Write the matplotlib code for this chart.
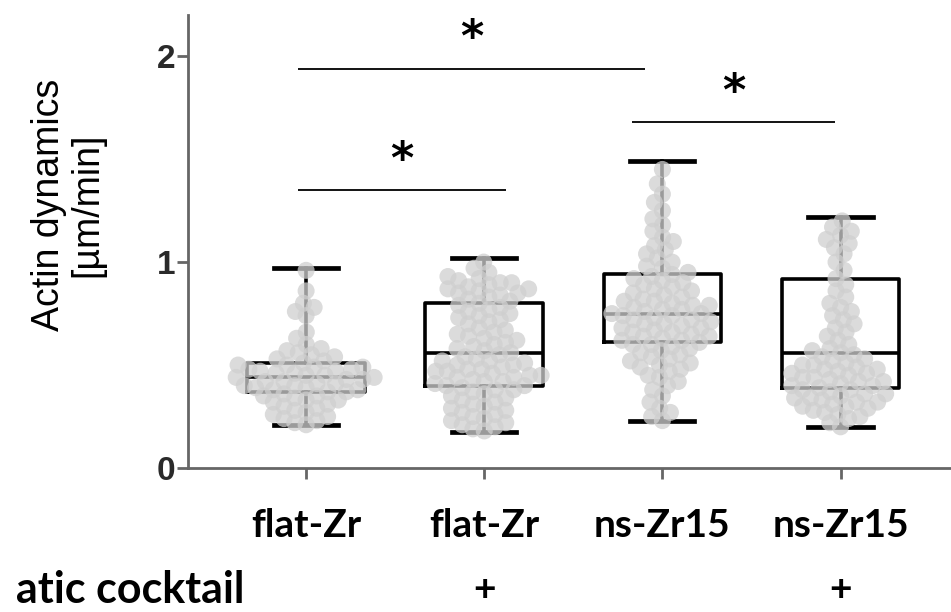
import numpy as np
import matplotlib
matplotlib.use("Agg")
import matplotlib.pyplot as plt

# ---------------------------------------------------------------------------
# Data
# ---------------------------------------------------------------------------

CATEGORIES = ["flat-Zr", "flat-Zr", "ns-Zr15", "ns-Zr15"]
COCKTAIL   = ["", "+", "", "+"]

# box statistics: whisker low, Q1, median, Q3, whisker high
WHIS_LO = [0.21, 0.175, 0.23, 0.20]
Q1      = [0.37, 0.40, 0.61, 0.39]
MEDIAN  = [0.44, 0.56, 0.75, 0.56]
Q3      = [0.51, 0.80, 0.94, 0.92]
WHIS_HI = [0.97, 1.02, 1.49, 1.22]

POINTS_FLAT = [
    0.21, 0.22, 0.23, 0.24, 0.25, 0.26, 0.27, 0.28, 0.29, 0.30, 0.31, 0.32,
    0.33, 0.33, 0.34, 0.35, 0.35, 0.36, 0.37, 0.37, 0.38, 0.38, 0.39, 0.39,
    0.40, 0.40, 0.41, 0.41, 0.42, 0.42, 0.43, 0.43, 0.44, 0.44, 0.45, 0.45,
    0.46, 0.46, 0.47, 0.47, 0.48, 0.48, 0.49, 0.49, 0.50, 0.50, 0.51, 0.52,
    0.53, 0.54, 0.55, 0.56, 0.57, 0.58, 0.60, 0.63, 0.66, 0.74, 0.76, 0.78,
    0.80, 0.86, 0.96,
]
POINTS_FLAT_COCKTAIL = [
    0.18, 0.19, 0.20, 0.21, 0.22, 0.23, 0.24, 0.25, 0.26, 0.27, 0.28, 0.29,
    0.30, 0.31, 0.32, 0.33, 0.34, 0.35, 0.36, 0.37, 0.38, 0.38, 0.39, 0.40,
    0.40, 0.41, 0.42, 0.42, 0.43, 0.44, 0.44, 0.45, 0.45, 0.46, 0.47, 0.47,
    0.48, 0.48, 0.49, 0.50, 0.50, 0.51, 0.52, 0.52, 0.53, 0.54, 0.55, 0.56,
    0.57, 0.58, 0.59, 0.60, 0.61, 0.62, 0.63, 0.64, 0.65, 0.66, 0.67, 0.68,
    0.70, 0.71, 0.72, 0.73, 0.74, 0.75, 0.76, 0.77, 0.78, 0.79, 0.80, 0.81,
    0.82, 0.83, 0.84, 0.85, 0.85, 0.86, 0.87, 0.87, 0.88, 0.89, 0.90, 0.90,
    0.91, 0.92, 0.93, 0.95, 0.97, 1.00,
]
POINTS_NS = [
    0.23, 0.25, 0.27, 0.29, 0.32, 0.35, 0.38, 0.40, 0.42, 0.44, 0.45, 0.47,
    0.48, 0.49, 0.50, 0.51, 0.52, 0.53, 0.54, 0.55, 0.56, 0.57, 0.58, 0.59,
    0.60, 0.60, 0.61, 0.62, 0.62, 0.63, 0.64, 0.64, 0.65, 0.66, 0.66, 0.67,
    0.68, 0.68, 0.69, 0.70, 0.70, 0.71, 0.72, 0.72, 0.73, 0.74, 0.74, 0.75,
    0.75, 0.76, 0.77, 0.77, 0.78, 0.79, 0.79, 0.80, 0.81, 0.81, 0.82, 0.83,
    0.84, 0.85, 0.86, 0.87, 0.88, 0.89, 0.90, 0.91, 0.92, 0.93, 0.94, 0.95,
    0.97, 0.98, 1.00, 1.02, 1.04, 1.06, 1.08, 1.10, 1.12, 1.15, 1.18, 1.21,
    1.25, 1.29, 1.33, 1.38, 1.45,
]
POINTS_NS_COCKTAIL = [
    0.20, 0.22, 0.24, 0.25, 0.26, 0.27, 0.28, 0.29, 0.30, 0.30, 0.31, 0.32,
    0.32, 0.33, 0.34, 0.34, 0.35, 0.36, 0.36, 0.37, 0.38, 0.38, 0.39, 0.40,
    0.40, 0.41, 0.42, 0.42, 0.43, 0.44, 0.44, 0.45, 0.46, 0.46, 0.47, 0.48,
    0.48, 0.49, 0.50, 0.50, 0.51, 0.52, 0.53, 0.54, 0.55, 0.56, 0.57, 0.58,
    0.60, 0.62, 0.64, 0.66, 0.68, 0.70, 0.72, 0.74, 0.76, 0.78, 0.80, 0.83,
    0.86, 0.89, 0.92, 0.96, 1.00, 1.04, 1.07, 1.09, 1.11, 1.13, 1.15, 1.17,
    1.20,
]
GROUP_POINTS = [POINTS_FLAT, POINTS_FLAT_COCKTAIL, POINTS_NS, POINTS_NS_COCKTAIL]

# significance brackets: (x start, x end, height)
SIG_X0 = [0.955, 2.83, 0.955]
SIG_X1 = [2.905, 3.97, 2.12]
SIG_Y  = [1.94, 1.68, 1.35]
SIG_LABELS = ["*", "*", "*"]

# ---------------------------------------------------------------------------
# Beeswarm layout
# ---------------------------------------------------------------------------

def swarm_offsets(values, sx, sy, d):
    """Horizontal offsets (data units) so markers of diameter d px don't overlap."""
    order = np.argsort(values)
    placed = []   # (x_px, y_px)
    offsets = np.zeros(len(values))
    for idx in order:
        y = values[idx] * sy
        blocks = []
        for px, py in placed:
            dy = abs(py - y)
            if dy < d:
                w = np.sqrt(d * d - dy * dy)
                blocks.append((px - w, px + w))
        cands = [0.0] + [b for pair in blocks for b in pair]
        cands.sort(key=abs)
        for c in cands:
            if all(not (lo + 1e-6 < c < hi - 1e-6) for lo, hi in blocks):
                x = c
                break
        placed.append((x, y))
        offsets[idx] = x / sx
    return offsets

# ---------------------------------------------------------------------------
# Figure
# ---------------------------------------------------------------------------

fig = plt.figure(figsize=(9.51, 6.12), dpi=100)
ax = fig.add_axes([188 / 951, 144 / 612, 1 - 188 / 951, 453 / 612])
ax.set_xlim(0.337, 4.62)
ax.set_ylim(0, 2.2)

positions = np.arange(1, len(CATEGORIES) + 1)
stats = [
    dict(whislo=WHIS_LO[i], q1=Q1[i], med=MEDIAN[i], q3=Q3[i], whishi=WHIS_HI[i])
    for i in range(len(CATEGORIES))
]
line_kw = dict(color="black", linewidth=2.6)
ax.bxp(
    stats, positions=positions, widths=0.66, showfliers=False,
    boxprops=line_kw, medianprops=line_kw, whiskerprops=line_kw,
    capprops=dict(color="black", linewidth=3.4), capwidths=0.36,
    manage_ticks=False, zorder=2,
)

sx, sy = 178.0, 206.0   # px per data unit
for pos, pts in zip(positions, GROUP_POINTS):
    vals = np.asarray(pts)
    off = swarm_offsets(vals, sx, sy, 11.5)
    ax.scatter(pos + off, vals, s=150, color="#cfcfcf", alpha=0.75,
               edgecolors="none", zorder=3)

# significance bars
for x0, x1, y, lab in zip(SIG_X0, SIG_X1, SIG_Y, SIG_LABELS):
    ax.plot([x0, x1], [y, y], color="black", linewidth=1.3, zorder=4,
            solid_capstyle="butt")
    ax.text((x0 + x1) / 2, y + 0.04, lab, ha="center", va="bottom",
            fontsize=32, fontweight="bold", color="black", zorder=4)

# axes styling
for side in ("top", "right"):
    ax.spines[side].set_visible(False)
for side in ("left", "bottom"):
    ax.spines[side].set_color("#666666")
    ax.spines[side].set_linewidth(2.0)

ax.set_yticks([0, 1, 2])
ax.set_yticklabels(["0", "1", "2"], fontsize=24, fontweight="bold",
                   color="#333333", family="Liberation Sans")
ax.set_xticks(positions)
ax.set_xticklabels([])
ax.tick_params(axis="both", colors="#666666", width=2.0, length=8)
ax.tick_params(axis="y", labelcolor="#2a2a2a", pad=1)

for pos, cat, plus in zip(positions, CATEGORIES, COCKTAIL):
    ax.text(pos, -0.28, cat, ha="center", va="center", fontsize=28,
            fontweight="bold", family="Lato", color="black",
            clip_on=False)
    if plus:
        ax.text(pos, -0.59, plus, ha="center", va="center", fontsize=28,
                fontweight="bold", family="Lato", color="black",
                clip_on=False)

fig.text(245 / 951, 1 - 590 / 612, "atic cocktail", ha="right", va="center",
         fontsize=31, fontweight="bold", family="Lato", color="black")

fig.text(68 / 951, 1 - 205 / 612, "Actin dynamics\n[µm/min]", rotation=90,
         ha="center", va="center", multialignment="center", fontsize=27,
         family="Liberation Sans", color="black", linespacing=1.1)

fig.savefig("out.png", dpi=100)
